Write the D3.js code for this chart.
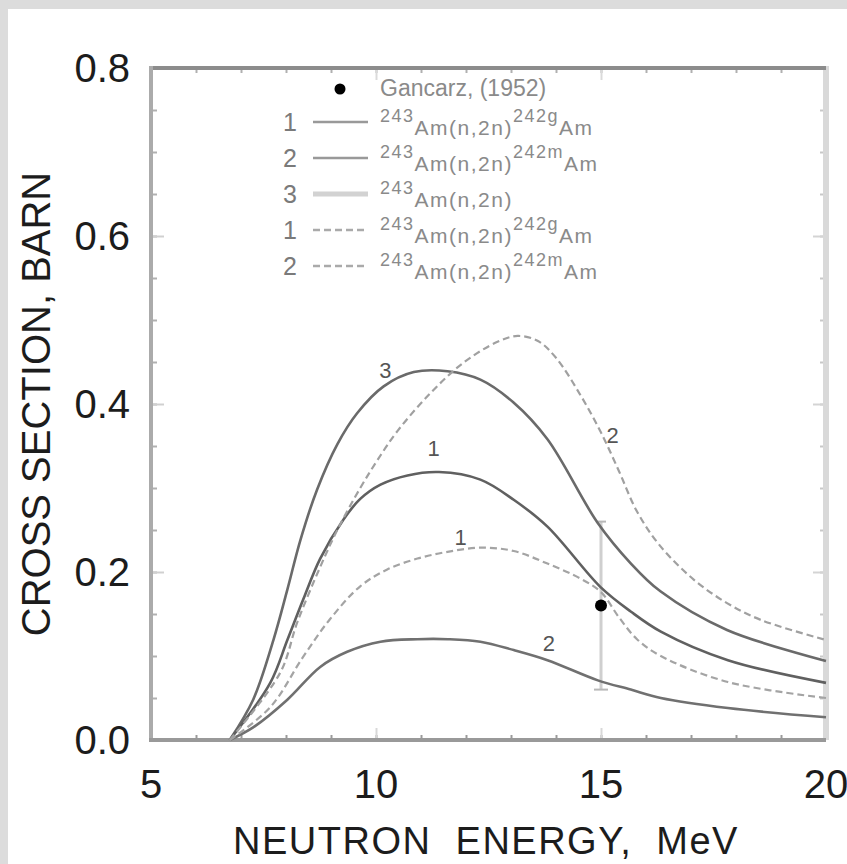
<!DOCTYPE html>
<html lang="en">
<head>
<meta charset="utf-8">
<title>243Am(n,2n) cross sections</title>
<script src="https://cdn.jsdelivr.net/npm/d3@7"></script>
<style>
  body { margin: 0; background: #dcdcdc; }
  svg { display: block; font-family: "Liberation Sans", Arial, sans-serif; }
  .curve { fill: none; stroke-linejoin: round; }
  .ticks .domain { display: none; }
</style>
</head>
<body>
<svg id="chart" width="847" height="864"></svg>
<script>
// [energy MeV, cross section barn]
var total3 = [[6.75,0],[7.27,0.048],[7.72,0.119],[8.03,0.179],[8.32,0.238],[8.69,0.298],[9.14,0.352],
  [9.58,0.389],[10.17,0.421],[10.84,0.438],[11.59,0.439],[12.32,0.429],[13.05,0.402],[13.81,0.358],
  [14.92,0.259],[15.65,0.211],[16.32,0.177],[17.80,0.131],[20,0.094]];
var ground1 = [[6.75,0],[7.65,0.068],[8.03,0.119],[8.38,0.167],[8.76,0.216],[9.27,0.262],[9.65,0.287],
  [10.10,0.304],[10.70,0.315],[11.4,0.319],[12.32,0.310],[13.06,0.286],[13.81,0.254],[14.99,0.182],
  [15.66,0.153],[16.33,0.129],[17.82,0.095],[20,0.068]];
var meta2 = [[6.75,0],[7.27,0.015],[8.03,0.048],[8.76,0.087],[9.36,0.105],[10.10,0.117],[10.92,0.120],
  [11.6,0.120],[12.32,0.117],[13.06,0.107],[13.81,0.095],[14.93,0.071],[15.66,0.060],[16.33,0.050],
  [17.82,0.038],[20,0.027]];
var ground1b = [[6.75,0],[7.65,0.039],[8.38,0.099],[8.98,0.144],[9.65,0.183],[10.25,0.203],[10.92,0.216],
  [11.59,0.224],[12.32,0.229],[13.06,0.225],[13.81,0.210],[14.55,0.192],[15.0,0.176],[15.4,0.146],
  [15.8,0.120],[16.33,0.100],[17.82,0.069],[20,0.050]];
var meta2b = [[6.75,0],[7.87,0.080],[8.25,0.140],[8.76,0.206],[9.14,0.250],[9.65,0.300],[10.03,0.333],
  [10.48,0.368],[11.21,0.413],[11.94,0.449],[12.70,0.474],[13.15,0.481],[13.6,0.475],[14.0,0.455],
  [14.55,0.410],[15.0,0.366],[15.4,0.320],[15.8,0.272],[16.3,0.232],[17.06,0.191],[17.8,0.163],
  [18.55,0.143],[20,0.119]];

var gancarz = [{e: 15, s: 0.16, lo: 0.06, hi: 0.26}];

var curveLabels = [
  {t: "3", e: 10.21, s: 0.440},
  {t: "1", e: 11.28, s: 0.348},
  {t: "1", e: 11.88, s: 0.242},
  {t: "2", e: 13.84, s: 0.115},
  {t: "2", e: 15.26, s: 0.363}
];

var xLabels = [5, 10, 15, 20];
var yLabels = [0, 0.2, 0.4, 0.6, 0.8];
var xMinor = d3.range(6, 20);
var xMajor = [10, 15];
var yMinor = d3.range(1, 16).map(function(i) { return i * 0.05; });
var yMajor = [0.2, 0.4, 0.6];

var legendRows = [
  {num: "1", style: "solid", a: "243", b: "Am(n,2n)", c: "242g", d: "Am"},
  {num: "2", style: "solid", a: "243", b: "Am(n,2n)", c: "242m", d: "Am"},
  {num: "3", style: "thick", a: "243", b: "Am(n,2n)", c: "", d: ""},
  {num: "1", style: "dash", a: "243", b: "Am(n,2n)", c: "242g", d: "Am"},
  {num: "2", style: "dash", a: "243", b: "Am(n,2n)", c: "242m", d: "Am"}
];

var series = [
  {data: total3, color: "#6a6a6a", width: 2.6, dash: null},
  {data: ground1, color: "#606060", width: 2.6, dash: null},
  {data: meta2, color: "#707070", width: 2.6, dash: null},
  {data: ground1b, color: "#a4a4a4", width: 2.2, dash: "7,4"},
  {data: meta2b, color: "#a0a0a0", width: 2.2, dash: "7,4"}
];

var svg = d3.select("#chart");
var pLeft = 151, pRight = 826, pTop = 68, pBottom = 740;

var x = d3.scaleLinear().domain([5, 20]).range([pLeft, pRight]);
var y = d3.scaleLinear().domain([0, 0.8]).range([pBottom, pTop]);

svg.append("rect").attr("x", 8).attr("y", 9).attr("width", 847).attr("height", 864).attr("fill", "#fff");

// ticks, all pointing inward
function tickGroup(axis, tx, ty, color) {
  var g = svg.append("g").attr("class", "ticks")
      .attr("transform", "translate(" + tx + "," + ty + ")")
      .call(axis);
  g.selectAll("line").attr("stroke", color).attr("stroke-width", 2);
  g.selectAll("text").remove();
}
tickGroup(d3.axisBottom(x).tickValues(xMinor).tickSize(-5), 0, pBottom, "#9a9a9a");
tickGroup(d3.axisBottom(x).tickValues(xMajor).tickSize(-12), 0, pBottom, "#d8d8d8");
tickGroup(d3.axisTop(x).tickValues(xMinor).tickSize(-5), 0, pTop, "#b0b0b0");
tickGroup(d3.axisTop(x).tickValues(xMajor).tickSize(-12), 0, pTop, "#dadada");
tickGroup(d3.axisLeft(y).tickValues(yMinor).tickSize(-6), pLeft, 0, "#b0b0b0");
tickGroup(d3.axisLeft(y).tickValues(yMajor).tickSize(-13), pLeft, 0, "#d0d0d0");
tickGroup(d3.axisRight(y).tickValues(yMinor).tickSize(-6), pRight, 0, "#c8c8c8");
tickGroup(d3.axisRight(y).tickValues(yMajor).tickSize(-13), pRight, 0, "#d4d4d4");

// frame
svg.append("line").attr("x1", pRight).attr("x2", pRight).attr("y1", pTop - 2).attr("y2", pBottom)
  .attr("stroke", "#d9d9d9").attr("stroke-width", 6);
svg.append("line").attr("x1", pLeft - 2).attr("x2", pRight).attr("y1", pTop).attr("y2", pTop)
  .attr("stroke", "#8c8c8c").attr("stroke-width", 4);
svg.append("line").attr("x1", pLeft).attr("x2", pLeft).attr("y1", pTop - 2).attr("y2", pBottom + 2)
  .attr("stroke", "#ababab").attr("stroke-width", 4);
svg.append("line").attr("x1", pLeft - 2).attr("x2", pRight).attr("y1", pBottom).attr("y2", pBottom)
  .attr("stroke", "#999").attr("stroke-width", 4);

// tick labels
svg.append("g").selectAll("text").data(xLabels).join("text")
  .attr("x", function(d) { return x(d); }).attr("y", 798)
  .attr("text-anchor", "middle").attr("font-size", 40).attr("fill", "#1c1c1c")
  .text(function(d) { return d; });
svg.append("g").selectAll("text").data(yLabels).join("text")
  .attr("x", 130).attr("y", function(d) { return y(d) + 14; })
  .attr("text-anchor", "end").attr("font-size", 40).attr("fill", "#1c1c1c")
  .text(function(d) { return d3.format(".1f")(d); });

// axis titles
svg.append("text").attr("x", 486).attr("y", 854).attr("text-anchor", "middle")
  .attr("font-size", 38).attr("fill", "#1c1c1c").attr("xml:space", "preserve")
  .attr("letter-spacing", 1.5)
  .text("NEUTRON  ENERGY,  MeV");
svg.append("text").attr("transform", "translate(50," + ((pTop + pBottom) / 2) + ") rotate(-90)")
  .attr("text-anchor", "middle").attr("font-size", 40).attr("fill", "#1c1c1c")
  .text("CROSS SECTION, BARN");

// error bar
var eb = svg.append("g").selectAll("g").data(gancarz).join("g");
eb.append("line").attr("x1", function(d) { return x(d.e); }).attr("x2", function(d) { return x(d.e); })
  .attr("y1", function(d) { return y(d.hi); }).attr("y2", function(d) { return y(d.lo); })
  .attr("stroke", "#cfcfcf").attr("stroke-width", 3);
eb.append("line").attr("x1", function(d) { return x(d.e) - 5; }).attr("x2", function(d) { return x(d.e) + 5; })
  .attr("y1", function(d) { return y(d.hi); }).attr("y2", function(d) { return y(d.hi); })
  .attr("stroke", "#b8b8b8").attr("stroke-width", 2);
eb.append("line").attr("x1", function(d) { return x(d.e) - 7; }).attr("x2", function(d) { return x(d.e) + 7; })
  .attr("y1", function(d) { return y(d.lo); }).attr("y2", function(d) { return y(d.lo); })
  .attr("stroke", "#b8b8b8").attr("stroke-width", 2);

// curves
var line = d3.line()
  .x(function(d) { return x(d[0]); })
  .y(function(d) { return y(d[1]); })
  .curve(d3.curveCatmullRom.alpha(0.5));

svg.append("g").selectAll("path").data(series).join("path")
  .attr("class", "curve")
  .attr("d", function(d) { return line(d.data); })
  .attr("stroke", function(d) { return d.color; })
  .attr("stroke-width", function(d) { return d.width; })
  .attr("stroke-dasharray", function(d) { return d.dash; });

eb.append("circle").attr("cx", function(d) { return x(d.e); }).attr("cy", function(d) { return y(d.s); })
  .attr("r", 6).attr("fill", "#000");

svg.append("g").selectAll("text").data(curveLabels).join("text")
  .attr("x", function(d) { return x(d.e); }).attr("y", function(d) { return y(d.s) + 8; })
  .attr("text-anchor", "middle").attr("font-size", 22).attr("fill", "#555")
  .text(function(d) { return d.t; });

// legend
var leg = svg.append("g");
leg.append("circle").attr("cx", 340).attr("cy", 89).attr("r", 5.5).attr("fill", "#000");
leg.append("text").attr("x", 380).attr("y", 96).attr("font-size", 23).attr("fill", "#8a8a8a")
  .text("Gancarz, (1952)");

var rows = leg.selectAll("g.row").data(legendRows).join("g")
  .attr("class", "row")
  .attr("transform", function(d, i) { return "translate(0," + (122 + i * 36) + ")"; });

rows.append("text").attr("x", 290).attr("y", 9).attr("text-anchor", "middle")
  .attr("font-size", 25).attr("fill", "#7a7a7a").text(function(d) { return d.num; });
rows.append("line").attr("x1", 313).attr("x2", 368).attr("y1", 0).attr("y2", 0)
  .attr("stroke", function(d) { return d.style === "thick" ? "#d2d2d2" : d.style === "dash" ? "#aaa" : "#999"; })
  .attr("stroke-width", function(d) { return d.style === "thick" ? 5 : 2.5; })
  .attr("stroke-dasharray", function(d) { return d.style === "dash" ? "7,4" : null; });

var lt = rows.append("text").attr("x", 380).attr("y", 0).attr("fill", "#8a8a8a")
  .attr("letter-spacing", 1.5);
lt.append("tspan").attr("font-size", 18).attr("y", 0).text(function(d) { return d.a; });
lt.append("tspan").attr("font-size", 21).attr("y", 13).text(function(d) { return d.b; });
lt.append("tspan").attr("font-size", 18).attr("y", 0).text(function(d) { return d.c; });
lt.append("tspan").attr("font-size", 21).attr("y", 13).text(function(d) { return d.d; });
</script>
</body>
</html>
